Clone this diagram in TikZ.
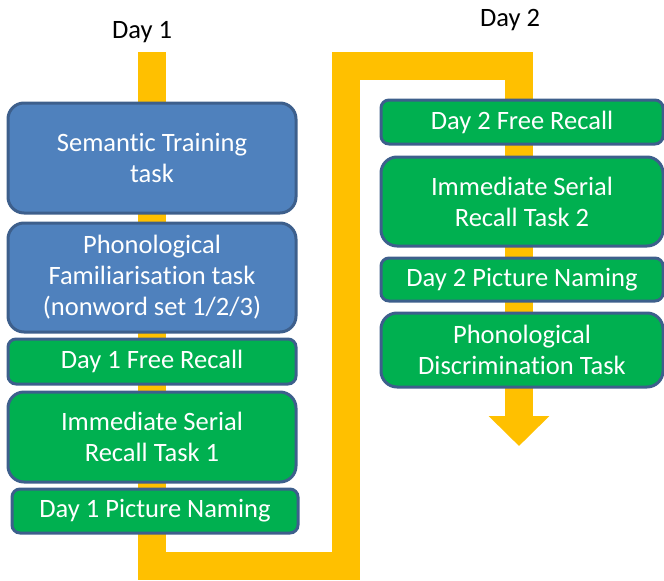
\documentclass[tikz,border=0pt]{standalone}
\usepackage{fontspec}
\setmainfont{Carlito}[Ligatures=NoCommon]
\usepackage{tikz}
\usetikzlibrary{arrows.meta}

\definecolor{taskblue}{HTML}{4F81BD}
\definecolor{taskgreen}{HTML}{00B050}
\definecolor{taskedge}{HTML}{3D5F8C}
\definecolor{flowyellow}{HTML}{FFC000}

\begin{document}
\begin{tikzpicture}
		[x=1pt,y=-1pt,
		every node/.style={font=\fontsize{26.5}{31}\selectfont,align=center,inner sep=0pt},
		task/.style={draw=taskedge,line width=3pt,text=white,rounded corners=16pt},
		bluetask/.style={task,fill=taskblue},
		greentask/.style={task,fill=taskgreen},
		flat/.style={rounded corners=8pt},
		flow/.style={draw=flowyellow,line width=28pt,line join=miter,-{Triangle[width=59pt,length=30pt]}}]
		\useasboundingbox (0,0) rectangle (664,581);
		
		% the yellow path from day 1 to day 2
		\coordinate (start) at (152,52);
		\coordinate (end) at (519,446);
		\draw[flow] (start) -- (152,566) -- (346,566) -- (346,66) -- (519,66) -- (end);
		
		\node (day1) at (142,32) {Day 1};
		\node (day2) at (510,20) {Day 2};
		
		% day 1
		\node[bluetask,minimum width=288pt,minimum height=110pt] (sem) at (152,158) {Semantic Training\\task};
		\node[bluetask,minimum width=288pt,minimum height=109pt] (fam) at (152,277.5) {Phonological\\Familiarisation task\\(nonword set 1/2/3)};
		\node[greentask,flat,minimum width=288pt,minimum height=45pt] (free1) at (152,361.5) {Day 1 Free Recall};
		\node[greentask,minimum width=288pt,minimum height=90pt] (isr1) at (152,437) {Immediate Serial\\Recall Task 1};
		\node[greentask,flat,minimum width=286pt,minimum height=44pt] (pic1) at (155,511) {Day 1 Picture Naming};
		
		% day 2
		\node[greentask,flat,minimum width=282pt,minimum height=44pt] (free2) at (522,122) {Day 2 Free Recall};
		\node[greentask,minimum width=282pt,minimum height=89pt] (isr2) at (522,201.5) {Immediate Serial\\Recall Task 2};
		\node[greentask,flat,minimum width=282pt,minimum height=43pt] (pic2) at (522,279.5) {Day 2 Picture Naming};
		\node[greentask,minimum width=282pt,minimum height=74pt] (disc) at (522,350) {Phonological\\Discrimination Task};
		
		\end{tikzpicture}
\end{document}
